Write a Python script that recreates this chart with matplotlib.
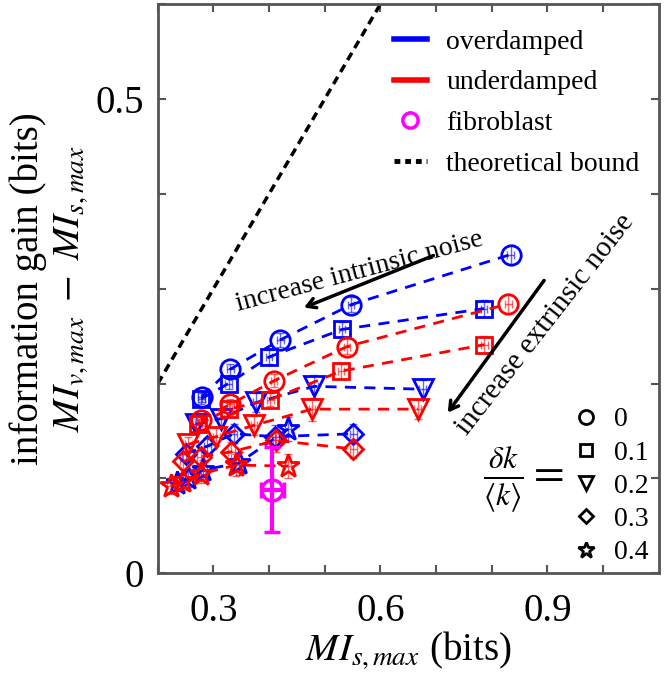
import matplotlib
matplotlib.use('Agg')
import matplotlib.pyplot as plt
from matplotlib.lines import Line2D
import numpy as np

plt.rcParams['font.family'] = ['Liberation Serif', 'DejaVu Serif']
plt.rcParams['mathtext.fontset'] = 'stix'

# noise levels dk/<k>
dk_labels = ['0', '0.1', '0.2', '0.3', '0.4']
markers = ['o', 's', 'v', 'D', '*']
msizes = [14, 12, 14, 10, 17]

# overdamped (blue): x = MI_s,max, y = information gain
over_x = [
    [0.279, 0.330, 0.420, 0.547, 0.834],
    [0.278, 0.327, 0.400, 0.531, 0.786],
    [0.268, 0.313, 0.377, 0.481, 0.676],
    [0.250, 0.289, 0.336, 0.411, 0.551],
    [0.234, 0.255, 0.282, 0.345, 0.434],
]
over_y = [
    [0.186, 0.215, 0.246, 0.283, 0.336],
    [0.184, 0.200, 0.228, 0.257, 0.279],
    [0.157, 0.163, 0.180, 0.197, 0.194],
    [0.126, 0.134, 0.147, 0.144, 0.147],
    [0.095, 0.100, 0.109, 0.116, 0.152],
]
# underdamped (red)
under_x = [
    [0.277, 0.330, 0.409, 0.540, 0.830],
    [0.273, 0.327, 0.402, 0.529, 0.787],
    [0.255, 0.305, 0.373, 0.477, 0.667],
    [0.246, 0.277, 0.332, 0.413, 0.551],
    [0.223, 0.246, 0.278, 0.341, 0.434],
]
under_y = [
    [0.162, 0.178, 0.203, 0.239, 0.284],
    [0.157, 0.173, 0.183, 0.213, 0.241],
    [0.136, 0.144, 0.156, 0.173, 0.173],
    [0.118, 0.123, 0.128, 0.140, 0.131],
    [0.092, 0.097, 0.105, 0.114, 0.113],
]
# error bars (rough)
err_x = [0.006, 0.006, 0.006, 0.006, 0.006]
err_y = [
    [0.006, 0.006, 0.007, 0.008, 0.010],
    [0.006, 0.006, 0.007, 0.008, 0.009],
    [0.008, 0.009, 0.010, 0.012, 0.010],
    [0.008, 0.009, 0.010, 0.012, 0.010],
    [0.008, 0.009, 0.010, 0.012, 0.013],
]

# fibroblast measurement
fib_x, fib_y = 0.406, 0.088
fib_xerr, fib_yerr = 0.021, 0.045

# theoretical bound: gain = MI_s
bound_x = [0.2, 0.6]
bound_y = [0.2, 0.6]

fig = plt.figure(figsize=(6.66, 6.76), dpi=100)
ax = fig.add_axes([0.237, 0.152, 0.752, 0.842])

ax.plot(bound_x, bound_y, color='black', lw=2.5, ls=(0, (2.4, 1.6)))

for xs, ys, col in [(over_x, over_y, 'blue'), (under_x, under_y, 'red')]:
    for i in range(5):
        ax.errorbar(xs[i], ys[i], xerr=err_x[i], yerr=err_y[i], fmt='none',
                    ecolor=col, elinewidth=1, capsize=3, alpha=0.6)
        ax.plot(xs[i], ys[i], color=col, lw=2, ls=(0, (4, 3)),
                marker=markers[i], ms=msizes[i], mfc='none', mec=col, mew=2)

ax.errorbar(fib_x, fib_y, xerr=fib_xerr, yerr=fib_yerr, fmt='o', color='magenta',
            ms=15, mfc='none', mew=2.5, elinewidth=3, capsize=6, capthick=3)

ax.set_xlim(0.2, 1.1)
ax.set_ylim(0, 0.6)
ax.set_xticks([0.3, 0.6, 0.9])
ax.set_xticks(np.arange(0.2, 1.1, 0.1), minor=True)
ax.set_yticks([0, 0.5])
ax.set_yticklabels(['0', '0.5'])
ax.set_yticks(np.arange(0, 0.61, 0.1), minor=True)
ax.tick_params(which='both', direction='in', top=True, right=True,
               length=6, width=1.5, color='#555555', labelsize=28)
ax.tick_params(axis='x', pad=14)
ax.tick_params(axis='y', pad=10)
for s in ax.spines.values():
    s.set_color('#555555')
    s.set_linewidth(2)

ax.set_xlabel(r'$MI_{s,max}$ (bits)', fontsize=28, labelpad=0)
ax.set_ylabel('information gain (bits)\n' + r'$MI_{v,max}\ -\ MI_{s,max}$',
              fontsize=28, labelpad=4, linespacing=1.15)

# annotations
ax.annotate('', xy=(0.458, 0.279), xytext=(0.700, 0.336),
            arrowprops=dict(arrowstyle='->,head_length=0.6,head_width=0.35', lw=2.5, color='black'))
ax.text(0.562, 0.318, 'increase intrinsic noise', fontsize=20, rotation=15,
        ha='center', va='center')
ax.annotate('', xy=(0.718, 0.167), xytext=(0.897, 0.311),
            arrowprops=dict(arrowstyle='->,head_length=0.6,head_width=0.35', lw=2.5, color='black'))
ax.text(0.897, 0.262, 'increase extrinsic noise', fontsize=21, rotation=52,
        ha='center', va='center')

# legends
h1 = [Line2D([], [], color='blue', lw=4),
      Line2D([], [], color='red', lw=4),
      Line2D([], [], color='magenta', ls='none', marker='o', ms=11, mfc='none', mew=2.5),
      Line2D([], [], color='black', lw=3.5, ls=(0, (1.2, 1.0)))]
leg1 = ax.legend(h1, ['overdamped', 'underdamped', 'fibroblast', 'theoretical bound'],
                 loc='upper right', bbox_to_anchor=(1.012, 1.0), frameon=False,
                 fontsize=20, handlelength=1.2, handletextpad=0.7, labelspacing=0.55)
ax.add_artist(leg1)

h2 = [Line2D([], [], color='black', ls='none', marker=m, ms=s * 0.72, mfc='none', mew=2)
      for m, s in zip(markers, msizes)]
ax.legend(h2, dk_labels, loc='lower right', bbox_to_anchor=(1.03, -0.03), frameon=False,
          fontsize=20, handlelength=1.0, handletextpad=0.5, labelspacing=0.28)
ax.text(0.73, 0.162, r'$\frac{\delta k}{\langle k\rangle}=$', fontsize=32,
        transform=ax.transAxes, ha='center', va='center')

fig.savefig('out.png', dpi=100)
